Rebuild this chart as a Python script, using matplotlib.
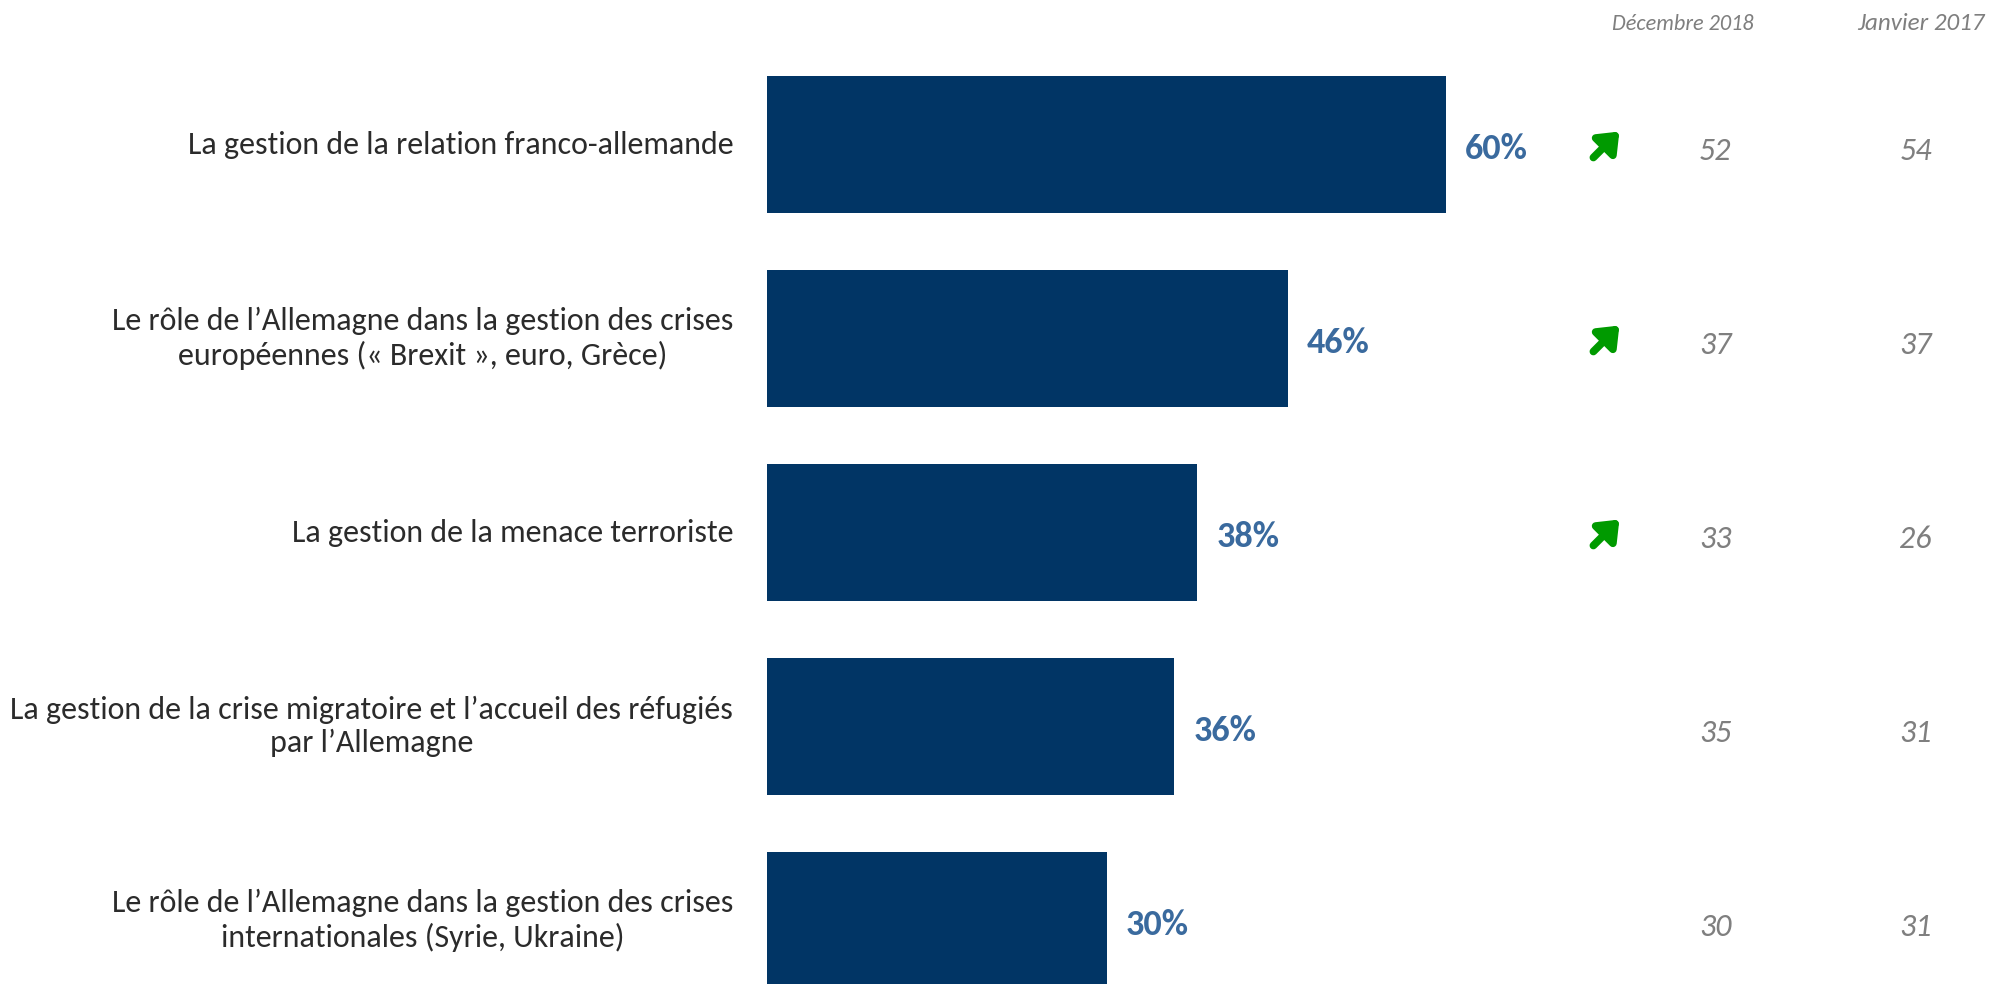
import matplotlib.pyplot as plt
from matplotlib.transforms import offset_copy

# ==========================================
# data
# ==========================================
categories = [
    "La gestion de la relation franco-allemande",
    "Le rôle de l’Allemagne dans la gestion des crises\neuropéennes (« Brexit », euro, Grèce)",
    "La gestion de la menace terroriste",
    "La gestion de la crise migratoire et l’accueil des réfugiés\npar l’Allemagne",
    "Le rôle de l’Allemagne dans la gestion des crises\ninternationales (Syrie, Ukraine)",
]
values = [60, 46, 38, 36, 30]
dec_2018 = [52, 37, 33, 35, 30]
jan_2017 = [54, 37, 26, 31, 31]
trend_up = [True, True, True, False, False]
col_headers = ["Décembre 2018", "Janvier 2017"]

BAR_COLOR = '#013565'
LABEL_COLOR = '#3a6a9e'
GREY = '#7f7f7f'
GREEN = '#009a00'
FONT = ['Carlito', 'Liberation Sans Narrow', 'Lato', 'DejaVu Sans']

fig = plt.figure(figsize=(19.89, 9.84), dpi=100)
ax = fig.add_axes([0, 0, 1, 1])

# x: 0 at pixel 767, ~11.31 px per point ; y: row pitch 194 px
ax.set_xlim(-67.8, 108.0)
ax.set_ylim(4.327, -0.745)
ax.axis('off')

rows = list(range(len(categories)))
ax.barh(rows, values, height=0.706, color=BAR_COLOR)

for i, (cat, v) in enumerate(zip(categories, values)):
    ax.text(-3.0, i, cat, ha='right', va='center', fontsize=23, color='#2b2b2b',
            family=FONT, multialignment='center', linespacing=1.22)
    ax.text(v + 1.7, i + 0.025, f"{v}%", ha='left', va='center', fontsize=26,
            fontweight='bold', color=LABEL_COLOR, family=FONT)

# comparison columns
arrow_x = (1606 - 767) / 11.31
dec_x = (1715 - 767) / 11.31
jan_x = (1915 - 767) / 11.31

for i in rows:
    ax.text(dec_x, i + 0.035, str(dec_2018[i]), ha='center', va='center', fontsize=23,
            style='italic', color=GREY, family=FONT)
    ax.text(jan_x, i + 0.035, str(jan_2017[i]), ha='center', va='center', fontsize=23,
            style='italic', color=GREY, family=FONT)
    if trend_up[i]:
        head = offset_copy(ax.transData, fig=fig, x=13, y=13, units='dots')
        ax.annotate('', xy=(arrow_x, i), xycoords=head,
                    xytext=(-26, -26), textcoords='offset pixels',
                    arrowprops=dict(arrowstyle='-|>,head_length=0.5,head_width=0.4',
                                    color=GREEN, lw=5.5, mutation_scale=22,
                                    shrinkA=0, shrinkB=0))

ax.text(dec_x - 33 / 11.31, -0.62, col_headers[0], ha='center', va='center', fontsize=16,
        style='italic', color=GREY, family=FONT)
ax.text(jan_x + 5 / 11.31, -0.625, col_headers[1], ha='center', va='center', fontsize=18,
        style='italic', color=GREY, family=FONT)

fig.savefig('out.png', dpi=100)
